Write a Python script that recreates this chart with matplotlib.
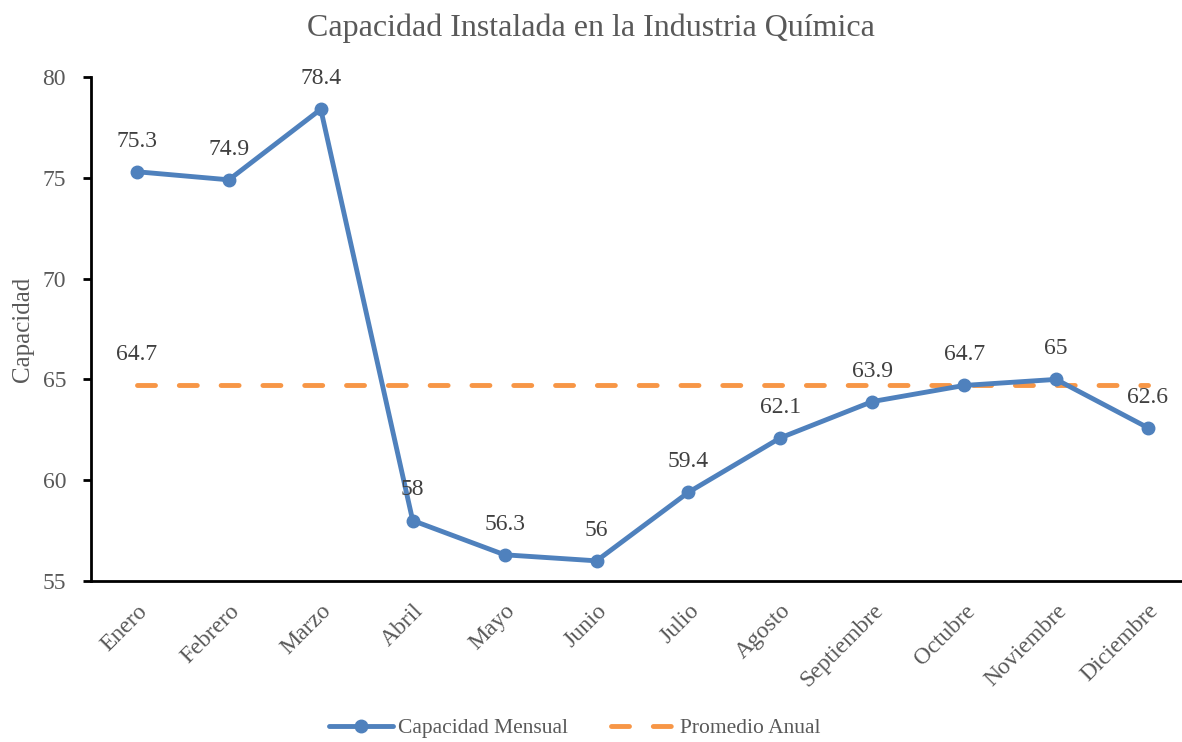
import matplotlib.pyplot as plt
import numpy as np

# datos
meses = ['Enero', 'Febrero', 'Marzo', 'Abril', 'Mayo', 'Junio', 'Julio',
         'Agosto', 'Septiembre', 'Octubre', 'Noviembre', 'Diciembre']
capacidad = [75.3, 74.9, 78.4, 58, 56.3, 56, 59.4, 62.1, 63.9, 64.7, 65, 62.6]
promedio = [64.7] * 12

plt.rcParams['font.family'] = ['Liberation Serif', 'DejaVu Serif']
gris = '#595959'
azul = '#4F81BD'
naranja = '#F79646'

fig = plt.figure(figsize=(11.82, 7.42), dpi=100)
ax = fig.add_axes([91/1182, 1-581/742, 1-91/1182, (581-77)/742])

x = np.arange(len(meses))
ax.plot(x, capacidad, color=azul, lw=3.5, marker='o', ms=9,
        solid_capstyle='round', label='Capacidad Mensual', zorder=3)
ax.plot(x, promedio, color=naranja, lw=3.5, dashes=(3.7, 4.9),
        dash_capstyle='round', label='Promedio Anual', zorder=2)

for xi, v in zip(x, capacidad):
    ax.annotate(f'{v:g}', (xi, v), xytext=(0, 22), textcoords='offset points',
                ha='center', va='center', fontsize=17, color='#404040')
ax.annotate(f'{promedio[0]:g}', (0, promedio[0]), xytext=(0, 22),
            textcoords='offset points', ha='center', va='center',
            fontsize=17, color='#404040')

ax.set_xlim(-0.5, 11.37)
ax.set_ylim(55, 80)
ax.set_yticks([55, 60, 65, 70, 75, 80])
ax.set_xticks(x)
ax.set_xticklabels(meses, rotation=45, ha='right', rotation_mode='anchor')
ax.tick_params(axis='x', length=0, pad=14, labelsize=17, labelcolor=gris)
ax.tick_params(axis='y', length=6, width=2, labelsize=17, labelcolor=gris, pad=12)

for s in ['top', 'right']:
    ax.spines[s].set_visible(False)
ax.spines['left'].set_linewidth(2)
ax.spines['bottom'].set_linewidth(2)

ax.set_ylabel('Capacidad', fontsize=18, color=gris, labelpad=6)
fig.suptitle('Capacidad Instalada en la Industria Química', fontsize=23,
             color=gris, y=1-28/742, va='center')

fig.legend(loc='center', bbox_to_anchor=(0.486, 1-728/742), ncol=2, frameon=False,
           fontsize=15.5, labelcolor=gris, handlelength=3, columnspacing=2,
           handletextpad=0.2)

fig.savefig('out.png', dpi=100)
